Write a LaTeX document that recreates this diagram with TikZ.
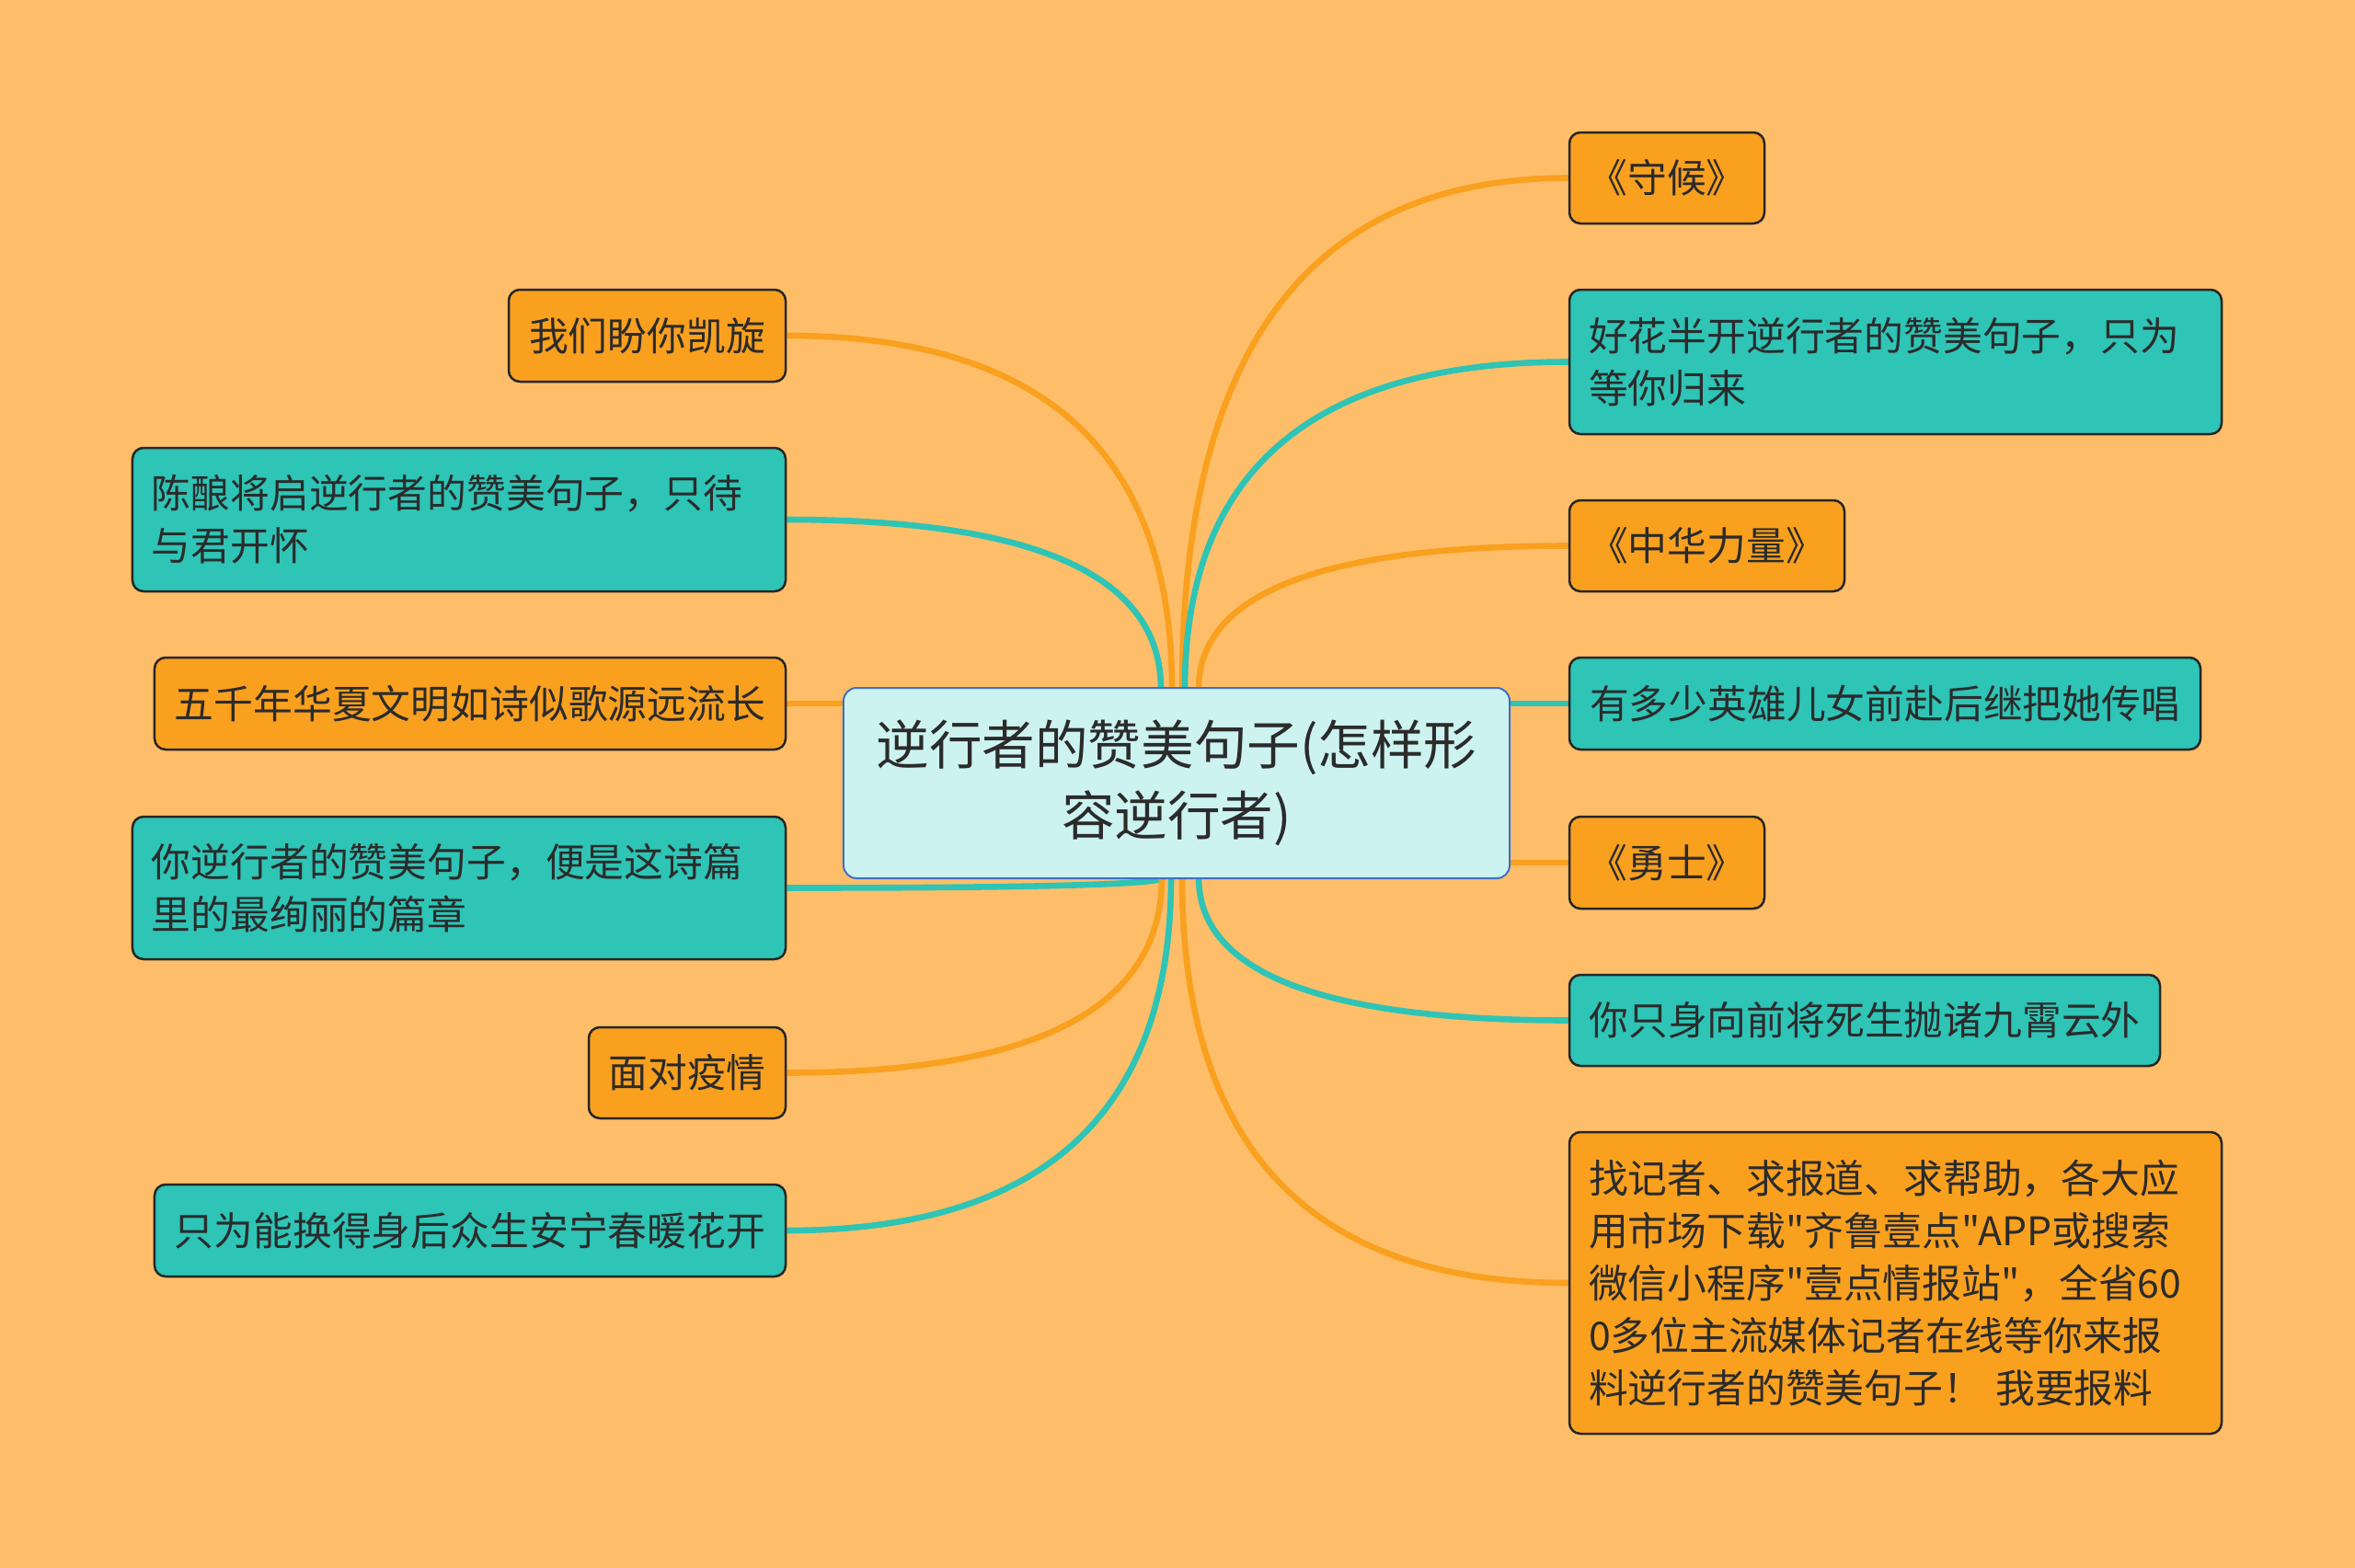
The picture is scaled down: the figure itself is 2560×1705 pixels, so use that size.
\documentclass[tikz,border=0pt]{standalone}
\usepackage{fontspec}
\newfontfamily\cjk{Noto Sans CJK SC}
\usetikzlibrary{backgrounds,calc}
\definecolor{bgc}{HTML}{FEBE69}
\definecolor{org}{HTML}{F9A01F}
\definecolor{tea}{HTML}{2EC4B6}
\definecolor{ctr}{HTML}{CCF3F0}
\definecolor{ctrb}{HTML}{3F6FC6}
\definecolor{txt}{HTML}{2B2B2B}
\pgfdeclarelayer{bottom}
\pgfsetlayers{bottom,background,main}
\tikzset{
 box/.style={draw=black!85, line width=1.25bp, rounded corners=6bp, text=txt,
   font=\cjk\fontsize{21.4bp}{28.5bp}\selectfont, inner sep=0pt, align=center},
 obox/.style={box, fill=org},
 tbox/.style={box, fill=tea},
 multi/.style={align=left, inner xsep=10.5bp, text width=#1},
 ol/.style={draw=org, line width=3.3bp},
 tl/.style={draw=tea, line width=3.3bp},
}
\newcommand\mmconn[3]{\draw[#1] (#2) .. controls ($(#2)!0.667!(#2 |- #3)$) and ($(#3)!0.667!(#2 |- #3)$) .. (#3);}
\begin{document}
\begin{tikzpicture}[x=0.5bp,y=-0.5bp]
\begin{pgfonlayer}{bottom}
\fill[bgc] (0,0) rectangle (2560,1705);
\end{pgfonlayer}
\useasboundingbox (0,0) rectangle (2560,1705);

% center
\node[draw=ctrb, fill=ctr, line width=1bp, rounded corners=7bp, minimum width=362bp,
  minimum height=103.5bp, font=\cjk\fontsize{28.8bp}{38.4bp}\selectfont, align=center,
  text=txt, inner sep=0pt] (c) at (1279,851.5) {逆行者的赞美句子(怎样形\\容逆行者)};

% right nodes
\node[obox, minimum width=106bp, minimum height=49.5bp] (r1) at (1812,193.5) {《守候》};
\node[tbox, multi=333.5bp, minimum height=78.5bp] (r2) at (2060.5,393.5) {好花半开逆行者的赞美句子，只为\\等你归来};
\node[obox, minimum width=149.5bp, minimum height=49.5bp] (r3) at (1855.5,593.5) {《中华力量》};
\node[tbox, minimum width=343bp, minimum height=50bp] (r4) at (2049,765) {有多少英雄儿女前赴后继把她传唱};
\node[obox, minimum width=106bp, minimum height=50bp] (r5) at (1812,938) {《勇士》};
\node[tbox, minimum width=321bp, minimum height=49.5bp] (r6) at (2027,1109.5) {你只身向前将死生抛诸九霄云外};
\node[obox, multi=333.5bp, minimum height=164bp] (r7) at (2060.5,1395) {找记者、求报道、求帮助，各大应\\用市场下载"齐鲁壹点"APP或搜索\\微信小程序"壹点情报站"，全省60\\0多位主流媒体记者在线等你来报\\料逆行者的赞美句子！ 我要报料};

% left nodes
\node[obox, minimum width=150.5bp, minimum height=50bp] (l1) at (703.5,365) {我们盼你凯旋};
\node[tbox, multi=334bp, minimum height=78bp] (l2) at (499,565) {陈酿将启逆行者的赞美句子，只待\\与君开怀};
\node[obox, minimum width=343bp, minimum height=50bp] (l3) at (511,765) {五千年华夏文明如诗似歌源远流长};
\node[tbox, multi=334bp, minimum height=77.5bp] (l4) at (499,965.5) {你逆行者的赞美句子，便是这诗篇\\里的最绚丽的篇章};
\node[obox, minimum width=107bp, minimum height=49.5bp] (l5) at (747,1166.5) {面对疫情};
\node[tbox, minimum width=343bp, minimum height=50bp] (l6) at (511,1338) {只为能换得身后众生安宁春暖花开};

% connector origins
\coordinate (t1) at (1262,749);
\coordinate (t2) at (1274,749);
\coordinate (t3) at (1285,749);
\coordinate (t4) at (1288,749);
\coordinate (t5) at (1303,749);
\coordinate (b0) at (1265,954);
\coordinate (b1) at (1263,954);
\coordinate (b2) at (1273,954);
\coordinate (b3) at (1285,954);
\coordinate (b4) at (1303,954);

\begin{pgfonlayer}{background}
\mmconn{tl}{t1}{l2.east}
\mmconn{ol}{t2}{l1.east}
\mmconn{ol}{t3}{r1.west}
\mmconn{tl}{t4}{r2.west}
\mmconn{ol}{t5}{r3.west}
\draw[ol] (l3.east) -- (l3.east -| c.west);
\draw[tl] (r4.west) -- (r4.west -| c.east);
\draw[ol] (r5.west) -- (r5.west -| c.east);
\mmconn{tl}{b0}{l4.east}
\mmconn{ol}{b1}{l5.east}
\mmconn{tl}{b2}{l6.east}
\mmconn{ol}{b3}{r7.west}
\mmconn{tl}{b4}{r6.west}
\end{pgfonlayer}
\end{tikzpicture}
\end{document}
